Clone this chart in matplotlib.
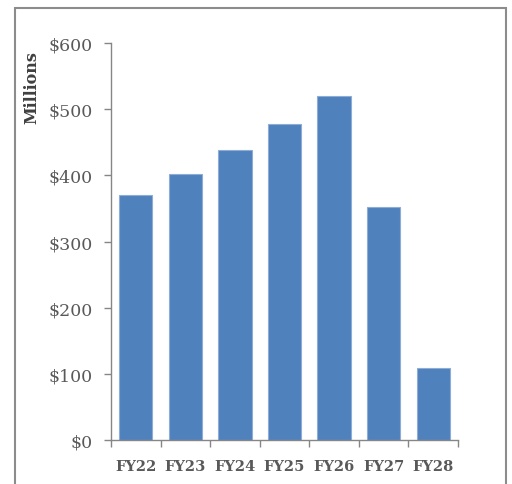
import matplotlib
matplotlib.use('Agg')
import matplotlib.pyplot as plt
from matplotlib import patches
import numpy as np

years = ['FY22', 'FY23', 'FY24', 'FY25', 'FY26', 'FY27', 'FY28']
values = [370, 402, 438, 478, 520, 352, 109]
yticks = [0, 100, 200, 300, 400, 500, 600]
ylabels = ['$0', '$100', '$200', '$300', '$400', '$500', '$600']

plt.rcParams['font.family'] = ['DejaVu Serif']

fig = plt.figure(figsize=(5.12, 4.85), dpi=100)
ax = fig.add_axes([0.2168, 0.0907, 0.6777, 0.8186])

x = np.arange(len(years))
ax.bar(x, values, width=0.67, color='#4F81BD', edgecolor='#8EADD6', linewidth=0.8)

ax.set_xlim(-0.5, len(years) - 0.5)
ax.set_ylim(0, 600)
ax.set_yticks(yticks)
ax.set_yticklabels(ylabels, fontsize=12.5, color='#595959')
ax.set_xticks(x)
ax.set_xticklabels(years, fontsize=10.5, fontweight='bold', color='#595959')
ax.set_xticks(np.arange(len(years) + 1) - 0.5, minor=True)
ax.tick_params(axis='x', which='major', length=0, pad=14)
ax.tick_params(axis='x', which='minor', length=5, color='#868686', width=1)
ax.tick_params(axis='y', length=5, color='#868686', width=1, pad=8)

for s in ['top', 'right']:
    ax.spines[s].set_visible(False)
for s in ['left', 'bottom']:
    ax.spines[s].set_color('#868686')
    ax.spines[s].set_linewidth(1)

fig.text(32 / 512, 1 - 88 / 485, 'Millions', rotation=90, fontsize=11.5,
         fontweight='bold', color='#404040', ha='center', va='center')

border = patches.Rectangle((15 / 512, -0.1), 491 / 512, 1.1 - 9 / 485,
                           transform=fig.transFigure, fill=False,
                           edgecolor='#8C8C8C', linewidth=1.5)
fig.patches.append(border)

plt.savefig('out.png', dpi=100)
